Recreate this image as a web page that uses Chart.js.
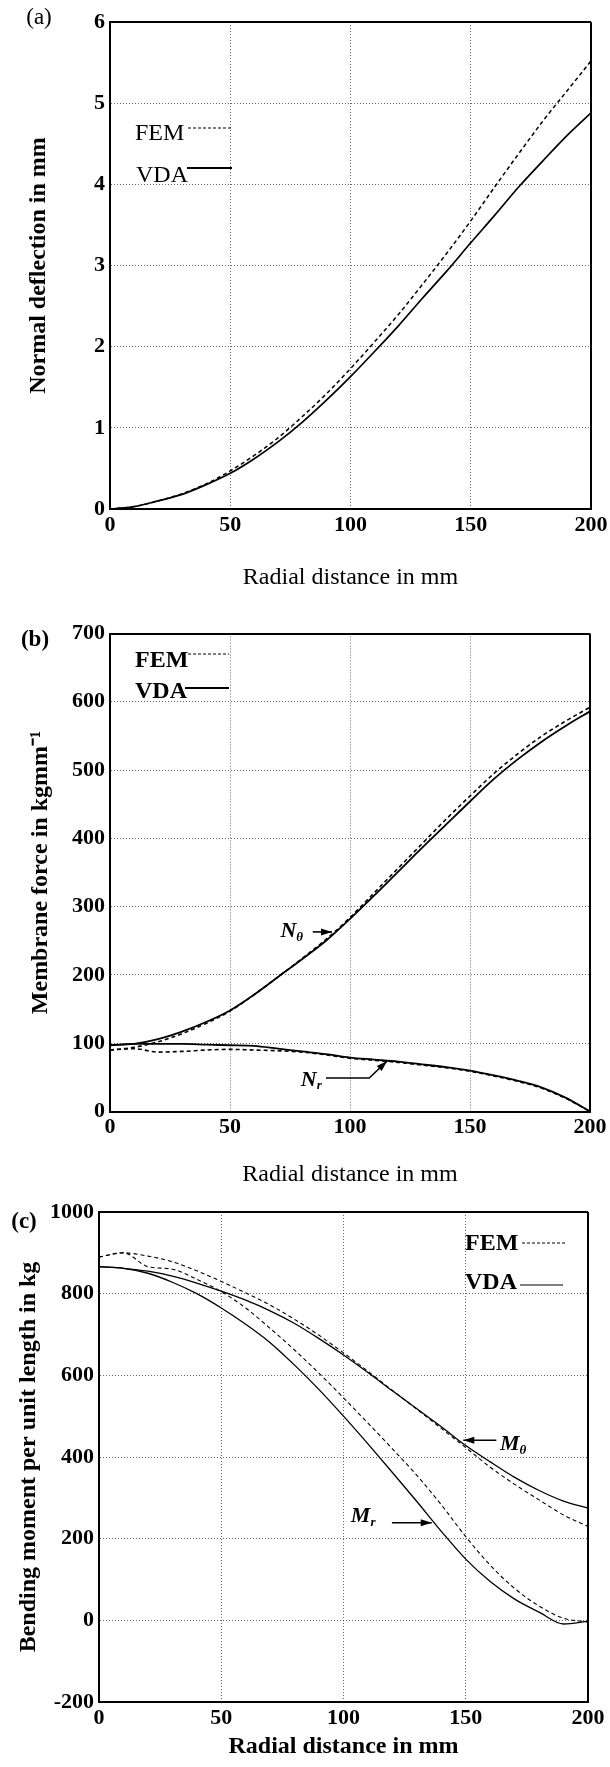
<!DOCTYPE html>
<html>
<head>
<meta charset="utf-8">
<script src="https://cdn.jsdelivr.net/npm/chart.js@4.4.1/dist/chart.umd.min.js"></script>
<style>
html,body{margin:0;padding:0;background:#fff;}
body{width:610px;height:1767px;overflow:hidden;position:relative;}
.pane{position:absolute;left:0;width:640px;}
.pl{position:absolute;font-family:"Liberation Serif","Times New Roman",serif;font-size:23px;color:#000;line-height:1;transform:translate(-50%,-50%);white-space:nowrap;}
</style>
</head>
<body>
<div class="pane" style="top:0px;height:600px"><canvas id="ca" width="640" height="600"></canvas></div>
<div class="pane" style="top:600px;height:600px"><canvas id="cb" width="640" height="600"></canvas></div>
<div class="pane" style="top:1190px;height:590px"><canvas id="cc" width="640" height="590"></canvas></div>
<div class="pl" style="left:39px;top:16px">(a)</div>
<div class="pl" style="left:35px;top:638px;font-weight:bold">(b)</div>
<div class="pl" style="left:24px;top:1220px;font-weight:bold">(c)</div>
<script>
// ---------------- data ----------------
const radialMm = [0,10,20,30,40,50,60,70,80,90,100,110,120,130,140,150,160,170,180,190,200];
const xTickValues = [0,50,100,150,200];

// (a) normal deflection, mm
const deflFEM = [0,0.03,0.10,0.19,0.31,0.47,0.66,0.88,1.14,1.42,1.73,2.06,2.40,2.77,3.15,3.55,3.97,4.38,4.78,5.15,5.52];
const deflVDA = [0,0.03,0.10,0.18,0.30,0.44,0.62,0.83,1.07,1.34,1.63,1.94,2.26,2.60,2.93,3.28,3.62,3.97,4.29,4.60,4.88];
const yTicksA = [0,1,2,3,4,5,6];

// (b) membrane force, kg/mm
const nThetaFEM = [90,94,102,114,129,147,171,197,224,252,284,320,356,392,428,462,495,524,550,572,592];
const nThetaVDA = [97,99,106,117,131,148,171,197,223,250,282,316,351,386,420,454,487,516,542,565,586];
const nrFEM     = [90,92,87,88,90,91,90,89,87,83,78,75,72,68,64,59,52,44,34,19,0];
const nrVDA     = [97,99,99,99,98,97,96,92,88,84,79,76,73,69,65,60,53,45,35,20,0];
const yTicksB = [0,100,200,300,400,500,600,700];

// (c) bending moment per unit length, kg
const mThetaFEM = [890,900,892,878,856,830,802,772,737,698,655,610,563,517,470,423,375,333,295,258,230];
const mThetaVDA = [866,862,855,843,826,806,784,758,727,690,650,607,562,518,474,428,388,350,318,292,275];
const mrFEM     = [890,900,866,860,835,805,765,715,662,605,545,483,420,355,283,205,135,78,35,5,-4];
const mrVDA     = [866,862,850,828,800,765,725,680,625,565,500,432,362,291,218,150,95,52,20,-9,-2];
const yTicksC = [-200,0,200,400,600,800,1000];

// ---------------- helpers ----------------
const SERIF = '"Liberation Serif","Times New Roman",serif';
const pts = (xs, ys) => xs.map((x, i) => ({x: x, y: ys[i]}));

function arrow(ctx, path, lw) {
  ctx.beginPath();
  ctx.lineWidth = lw;
  ctx.moveTo(path[0][0], path[0][1]);
  for (let i = 1; i < path.length; i++) ctx.lineTo(path[i][0], path[i][1]);
  ctx.stroke();
  const [x2, y2] = path[path.length - 1];
  const [x1, y1] = path[path.length - 2];
  const a = Math.atan2(y2 - y1, x2 - x1);
  const L = 11, W = 3.5;
  ctx.beginPath();
  ctx.moveTo(x2, y2);
  ctx.lineTo(x2 - L * Math.cos(a) + W * Math.sin(a), y2 - L * Math.sin(a) - W * Math.cos(a));
  ctx.lineTo(x2 - L * Math.cos(a) - W * Math.sin(a), y2 - L * Math.sin(a) + W * Math.cos(a));
  ctx.closePath();
  ctx.fill();
}

function makePlugin(cfg) {
  return {
    id: 'annot_' + cfg.id,
    afterDatasetsDraw(chart) {
      const ctx = chart.ctx, xs = chart.scales.x, ys = chart.scales.y, off = cfg.canvasTop;
      ctx.save();
      ctx.fillStyle = '#000'; ctx.strokeStyle = '#000';
      cfg.legend.forEach(l => {
        ctx.font = l.font; ctx.textBaseline = 'middle'; ctx.textAlign = 'left';
        ctx.fillText(l.text, l.tx, l.ty - off);
        ctx.beginPath(); ctx.setLineDash(l.dash); ctx.lineWidth = l.lw;
        ctx.moveTo(l.x1, l.ly - off); ctx.lineTo(l.x2, l.ly - off); ctx.stroke();
        ctx.setLineDash([]);
      });
      (cfg.notes || []).forEach(n => {
        const px = xs.getPixelForValue(n.x), py = ys.getPixelForValue(n.y);
        ctx.textBaseline = 'middle'; ctx.textAlign = 'left';
        ctx.font = 'italic bold 22px ' + SERIF;
        ctx.fillText(n.main, px, py);
        const w = ctx.measureText(n.main).width;
        ctx.font = 'italic bold 13px ' + SERIF;
        ctx.fillText(n.sub, px + w, py + 6);
        arrow(ctx, n.path.map(p => [xs.getPixelForValue(p[0]), ys.getPixelForValue(p[1])]), 1.6);
      });
      ctx.restore();
    }
  };
}

function makeChart(cfg) {
  const tickFont = {family: SERIF, size: 22, weight: 'bold'};
  const isEdge = (c) => c.tick && (c.index === 0 || c.index === c.scale.ticks.length - 1);
  const gridOpts = {
    color: c => isEdge(c) ? '#000' : 'rgba(0,0,0,0.6)',
    lineWidth: c => isEdge(c) ? 2 : 1,
    drawTicks: false
  };
  const borderOpts = {display: true, color: '#000', width: 2, dash: c => (c.type === 'tick' && !isEdge(c)) ? [1, 2] : []};
  const yLh = 24 * 1.2, xLh = 24 * 1.2;
  const canvasH = cfg.canvasH;
  new Chart(document.getElementById(cfg.id), {
    type: 'line',
    data: {datasets: cfg.datasets},
    plugins: [makePlugin(cfg)],
    options: {
      responsive: false,
      animation: false,
      events: [],
      layout: {padding: {top: cfg.top - cfg.canvasTop, left: 0, right: 640 - cfg.right, bottom: 0}},
      plugins: {legend: {display: false}, tooltip: {enabled: false}},
      elements: {point: {radius: 0}, line: {cubicInterpolationMode: 'monotone', fill: false}},
      scales: {
        x: {
          type: 'linear', min: xTickValues[0], max: xTickValues[xTickValues.length - 1],
          afterBuildTicks: s => { s.ticks = xTickValues.map(v => ({value: v})); },
          afterFit: s => { s.height = cfg.canvasTop + canvasH - cfg.bottom; },
          ticks: {font: tickFont, color: '#000', padding: 3, autoSkip: false, maxRotation: 0, callback: v => String(v)},
          grid: gridOpts, border: borderOpts,
          title: {display: true, text: 'Radial distance in mm', color: '#000',
            font: {family: SERIF, size: 24, weight: cfg.xTitleBold ? 'bold' : 'normal'},
            padding: {top: 0, bottom: (cfg.canvasTop + canvasH - cfg.xTitleY) - xLh / 2}}
        },
        y: {
          type: 'linear', min: cfg.yTicks[0], max: cfg.yTicks[cfg.yTicks.length - 1],
          afterBuildTicks: s => { s.ticks = cfg.yTicks.map(v => ({value: v})); },
          afterFit: s => { s.width = cfg.left; },
          ticks: {font: tickFont, color: '#000', padding: 5, autoSkip: false, callback: v => String(v)},
          grid: gridOpts, border: borderOpts,
          title: {display: true, text: cfg.yTitle, color: '#000',
            font: {family: SERIF, size: 24, weight: 'bold'},
            padding: {top: cfg.yTitleX - yLh / 2, bottom: 0}}
        }
      }
    }
  });
}

const dashed = (data, w) => ({data: data, borderColor: '#000', borderWidth: w, borderDash: [4, 3], pointRadius: 0});
const solid = (data, w) => ({data: data, borderColor: '#000', borderWidth: w, pointRadius: 0});

// (a)
makeChart({
  id: 'ca', canvasTop: 0, canvasH: 600,
  left: 110, right: 591, top: 22, bottom: 509,
  yTicks: yTicksA, yTitle: 'Normal deflection in mm', yTitleX: 39, xTitleY: 578, xTitleBold: false,
  datasets: [dashed(pts(radialMm, deflFEM), 1.5), solid(pts(radialMm, deflVDA), 1.7)],
  legend: [
    {text: 'FEM', font: '24px ' + SERIF, tx: 135, ty: 134, x1: 188, x2: 232, ly: 128, dash: [3, 2], lw: 1.2},
    {text: 'VDA', font: '24px ' + SERIF, tx: 136, ty: 176, x1: 187, x2: 232, ly: 168, dash: [], lw: 2}
  ]
});

// (b)
makeChart({
  id: 'cb', canvasTop: 600, canvasH: 600,
  left: 110, right: 590, top: 633.5, bottom: 1111.5,
  yTicks: yTicksB, yTitle: 'Membrane force in kgmm\u207B\u00B9', yTitleX: 41, xTitleY: 1175, xTitleBold: false,
  datasets: [
    dashed(pts(radialMm, nThetaFEM), 1.6), solid(pts(radialMm, nThetaVDA), 1.8),
    dashed(pts(radialMm, nrFEM), 1.6), solid(pts(radialMm, nrVDA), 1.8)
  ],
  legend: [
    {text: 'FEM', font: 'bold 24px ' + SERIF, tx: 135, ty: 661, x1: 188, x2: 229, ly: 654, dash: [3, 2], lw: 1.2},
    {text: 'VDA', font: 'bold 24px ' + SERIF, tx: 135, ty: 692, x1: 185, x2: 229, ly: 688, dash: [], lw: 2}
  ],
  notes: [
    {main: 'N', sub: '\u03B8', x: 71, y: 264, path: [[84.5, 263], [92.5, 263]]},
    {main: 'N', sub: 'r', x: 79.5, y: 46, path: [[90, 49], [108, 49], [115.5, 74]]}
  ]
});

// (c)
makeChart({
  id: 'cc', canvasTop: 1190, canvasH: 590,
  left: 99, right: 588, top: 1212, bottom: 1702,
  yTicks: yTicksC, yTitle: 'Bending moment per unit length in kg', yTitleX: 29, xTitleY: 1747, xTitleBold: true,
  datasets: [
    dashed(pts(radialMm, mThetaFEM), 1.1), solid(pts(radialMm, mThetaVDA), 1.3),
    dashed(pts(radialMm, mrFEM), 1.1), solid(pts(radialMm, mrVDA), 1.3)
  ],
  legend: [
    {text: 'FEM', font: 'bold 24px ' + SERIF, tx: 465, ty: 1244, x1: 522, x2: 565, ly: 1243, dash: [3, 2], lw: 1},
    {text: 'VDA', font: 'bold 24px ' + SERIF, tx: 465, ty: 1283, x1: 520, x2: 563, ly: 1285, dash: [], lw: 1.2}
  ],
  notes: [
    {main: 'M', sub: '\u03B8', x: 164, y: 431, path: [[162.5, 441], [149, 441]]},
    {main: 'M', sub: 'r', x: 103, y: 255, path: [[119.8, 239], [136.1, 239]]}
  ]
});
</script>
</body>
</html>
